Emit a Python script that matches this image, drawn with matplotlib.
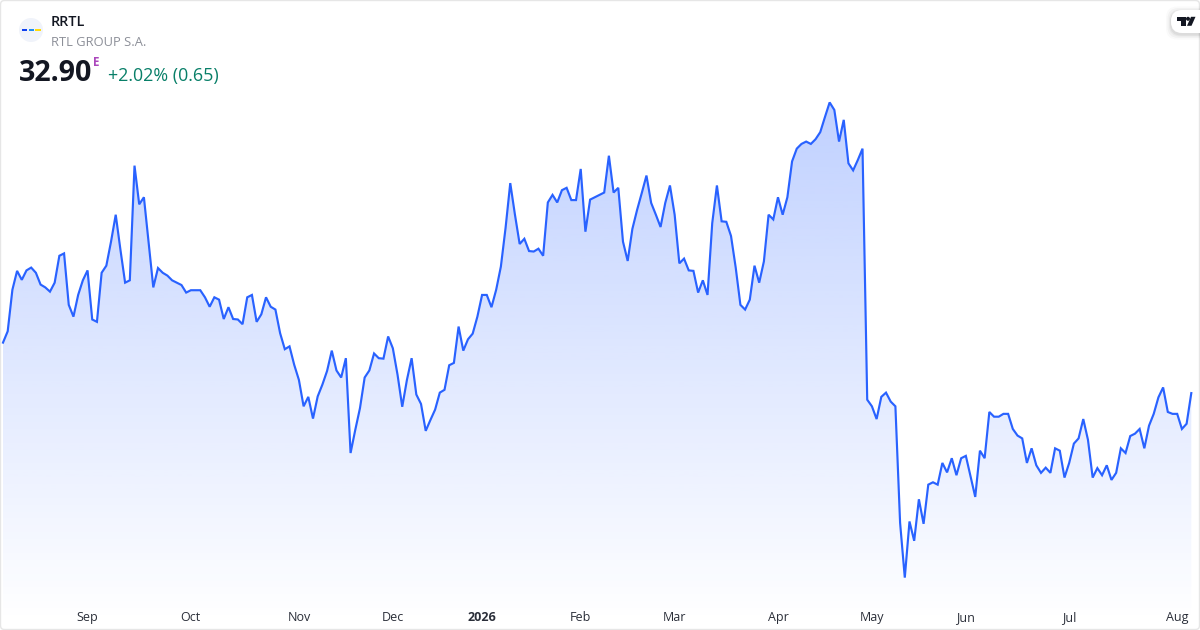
import matplotlib
matplotlib.use("Agg")
import matplotlib.pyplot as plt
import numpy as np
from matplotlib.patches import Circle, FancyBboxPatch, Polygon, Rectangle

plt.rcParams["font.family"] = ["Open Sans", "DejaVu Sans"]

# daily close
prices = [
    33.97, 34.21, 35.09, 35.49, 35.30, 35.50, 35.56, 35.45, 35.20, 35.14,
    35.05, 35.24, 35.81, 35.86, 34.77, 34.52, 34.98, 35.29, 35.50, 34.46,
    34.41, 35.45, 35.60, 36.11, 36.68, 35.94, 35.24, 35.29, 37.72, 36.90,
    37.05, 36.09, 35.14, 35.55, 35.45, 35.39, 35.29, 35.24, 35.19, 35.03,
    35.08, 35.08, 35.08, 34.93, 34.73, 34.93, 34.88, 34.47, 34.72, 34.47,
    34.46, 34.36, 34.93, 34.98, 34.41, 34.57, 34.93, 34.73, 34.67, 34.17,
    33.83, 33.89, 33.50, 33.18, 32.62, 32.82, 32.36, 32.83, 33.08, 33.37,
    33.80, 33.38, 33.23, 33.64, 31.63, 32.12, 32.58, 33.23, 33.38, 33.74,
    33.64, 33.63, 34.10, 33.85, 33.29, 32.61, 33.18, 33.64, 32.87, 32.67,
    32.10, 32.33, 32.55, 32.91, 32.97, 33.49, 33.54, 34.31, 33.80, 34.04,
    34.16, 34.52, 34.98, 34.98, 34.72, 35.09, 35.58, 36.40, 37.35, 36.68,
    36.06, 36.17, 35.91, 35.90, 35.96, 35.81, 36.94, 37.10, 36.94, 37.20,
    37.25, 36.99, 36.99, 37.65, 36.32, 37.00, 37.05, 37.10, 37.15, 37.93,
    37.15, 37.25, 36.11, 35.70, 36.38, 36.78, 37.14, 37.51, 36.93, 36.68,
    36.42, 36.93, 37.30, 36.68, 35.65, 35.75, 35.50, 35.49, 35.03, 35.29,
    34.98, 36.50, 37.30, 36.54, 36.53, 36.23, 35.56, 34.77, 34.67, 34.88,
    35.60, 35.24, 35.69, 36.68, 36.58, 37.05, 36.68, 37.05, 37.81, 38.08,
    38.18, 38.23, 38.18, 38.28, 38.43, 38.75, 39.06, 38.90, 38.23, 38.69,
    37.77, 37.62, 37.84, 38.08, 32.76, 32.62, 32.35, 32.82, 32.91, 32.72,
    32.62, 30.15, 28.99, 30.18, 29.77, 30.65, 30.13, 30.96, 31.01, 30.96,
    31.42, 31.22, 31.52, 31.16, 31.52, 31.57, 31.13, 30.70, 31.68, 31.52,
    32.50, 32.40, 32.40, 32.46, 32.46, 32.14, 32.00, 31.94, 31.42, 31.73,
    31.37, 31.21, 31.32, 31.21, 31.73, 31.68, 31.11, 31.42, 31.83, 31.94,
    32.35, 31.91, 31.11, 31.31, 31.16, 31.37, 31.06, 31.21, 31.73, 31.63,
    31.99, 32.04, 32.14, 31.73, 32.21, 32.46, 32.81, 33.02, 32.50, 32.46,
    32.46, 32.14, 32.25, 32.90,
]
tick_pos = [18, 40, 63, 83, 102, 123, 143, 165, 185, 205, 227, 250]
tick_labels = ["Sep", "Oct", "Nov", "Dec", "2026", "Feb", "Mar", "Apr", "May", "Jun", "Jul", "Aug"]

symbol = "RRTL"
company = "RTL GROUP S.A."
last_price = "32.90"
change = "+2.02% (0.65)"

LINE = "#2962FF"
W, H = 1200, 630

fig = plt.figure(figsize=(W / 100, H / 100), dpi=100, facecolor="white")
ax = fig.add_axes([0, 0, 1, 1])

y = np.array(prices)
x = np.arange(len(y))

# price axis runs over the whole canvas, scale taken from the last day's move
step = (1191.3 - 3) / (len(y) - 1)
xlim = (-3 / step, (W - 3) / step)
ylim = (27.88, 41.23)

# gradient under the line
ramp = np.zeros((256, 1, 4))
ramp[..., 0], ramp[..., 1], ramp[..., 2] = 41 / 255, 98 / 255, 1.0
ramp[:, 0, 3] = np.linspace(0.295, 0.0, 256)
im = ax.imshow(ramp, extent=(xlim[0], xlim[1], ylim[0] + 0.15, y.max()), aspect="auto",
               origin="upper", interpolation="bilinear", zorder=1)
area = Polygon(np.vstack([np.column_stack([x, y]), [x[-1], ylim[0]], [x[0], ylim[0]]]),
               closed=True, fc="none", ec="none", transform=ax.transData)
ax.add_patch(area)
im.set_clip_path(area)

ax.plot(x, y, color=LINE, lw=1.55, solid_joinstyle="miter", zorder=2)

ax.set_xlim(xlim)
ax.set_ylim(ylim)
ax.set_yticks([])
ax.set_xticks(tick_pos, tick_labels)
ax.tick_params(axis="x", length=0, pad=-13.8, labelsize=9, labelcolor="#2A2E39")
ax.get_xticklabels()[4].set_fontweight("bold")
for s in ax.spines.values():
    s.set_visible(False)

# header and frame are laid out in pixels on a second axes
top = fig.add_axes([0, 0, 1, 1], facecolor="none")
top.set_xlim(0, W)
top.set_ylim(H, 0)
top.axis("off")

top.add_patch(FancyBboxPatch((0.5, 0.5), W - 1, H - 1, boxstyle="round,pad=0,rounding_size=4",
                             fc="none", ec="#E6E6E6", lw=1.0))

top.add_patch(Circle((31, 30), 12, fc="#F0F3FA", ec="none"))
top.add_patch(Rectangle((21.5, 28.5), 5.5, 2.8, fc="#0F3FEF", ec="none"))
top.add_patch(Rectangle((28.5, 28.5), 5.5, 2.8, fc="#2090F5", ec="none"))
top.add_patch(Rectangle((35.2, 28.5), 5.3, 2.8, fc="#FFDB0A", ec="none"))

top.text(51, 22, symbol, fontsize=10.4, fontweight="semibold", color="#131722", va="center")
top.text(51, 42, company, fontsize=9.3, color="#8C8F98", va="center")
top.text(19, 73.5, last_price, fontsize=20.6, fontweight="bold", color="#131722", va="center")
top.text(92.8, 62, "E", fontsize=8.4, fontweight="bold", color="#AB47BC", va="center")
top.text(108, 76, change, fontsize=12.9, color="#087F68", va="center")

# logo tab in the corner
for pad, alpha in [(5, 0.02), (3.5, 0.03), (2, 0.04), (1, 0.05)]:
    top.add_patch(FancyBboxPatch((1171 - pad, 10 - pad + 1.5), 40 + pad, 23 + 2 * pad,
                                 boxstyle="round,pad=0,rounding_size=11", fc="black",
                                 ec="none", alpha=alpha, clip_on=True))
top.add_patch(FancyBboxPatch((1171, 10), 40, 23, boxstyle="round,pad=0,rounding_size=11",
                             fc="white", ec="none"))
top.add_patch(Polygon([(1176.7, 16.8), (1185.5, 16.8), (1185.5, 25.8), (1181, 25.8), (1181, 20.6), (1176.7, 20.6)],
                      closed=True, fc="#131722", ec="none"))
top.add_patch(Circle((1188, 18.8), 2.0, fc="#131722", ec="none"))
top.add_patch(Polygon([(1191, 16.8), (1195.5, 16.8), (1191.5, 25.8), (1187, 25.8)],
                      closed=True, fc="#131722", ec="none"))

fig.savefig("out.png", dpi=100)
print(len(prices))
